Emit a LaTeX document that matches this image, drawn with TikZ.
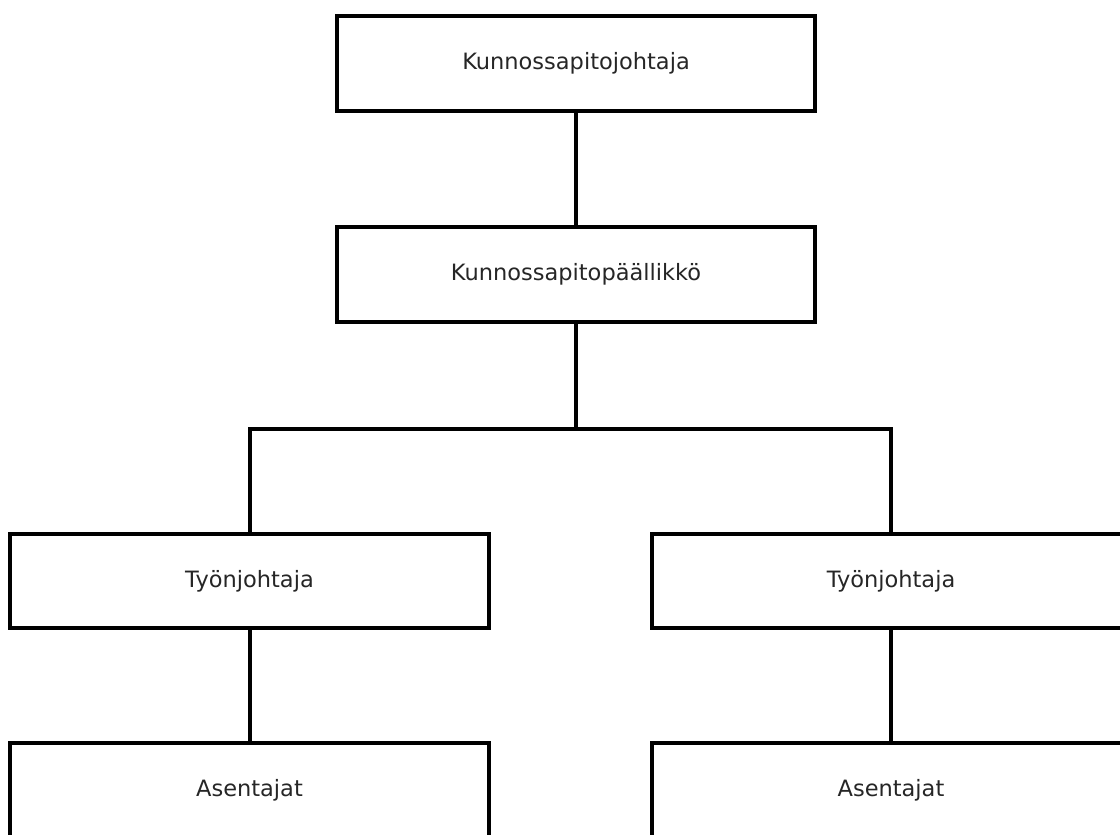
\documentclass[tikz,border=0pt]{standalone}
\usepackage{fontspec}
\setmainfont{DejaVu Sans}
\usepackage{tikz}

\begin{document}
\begin{tikzpicture}
			[x=0.025cm,y=-0.025cm,line cap=rect,
			%Styles
			role box/.style={draw,line width=0.1cm,minimum width=11.95cm,minimum height=2.35cm,inner sep=0pt,text=black!85,font=\fontsize{16}{19}\selectfont},
			link/.style={line width=0.1cm}
			]
			
			%Frame
			\useasboundingbox (0,0) rectangle (1120,835);
			\clip (0,0) rectangle (1120,835);
			
			%The graphic
			\node[role box] (chief) at (576,63.5) {Kunnossapitojohtaja};
			\node[role box] (manager) at (576,274.5) {Kunnossapitopäällikkö};
			\node[role box] (foremanL) at (249.5,581) {Työnjohtaja};
			\node[role box] (foremanR) at (891,581) {Työnjohtaja};
			\node[role box] (fittersL) at (249.5,790) {Asentajat};
			\node[role box] (fittersR) at (891,790) {Asentajat};
			\coordinate (split) at (576,428.5);
			
			\draw[link] (chief) -- (manager);
			\draw[link] (manager) -- (split);
			\draw[link] (foremanL.north) |- (split) -| (foremanR.north);
			\draw[link] (foremanL) -- (fittersL);
			\draw[link] (foremanR) -- (fittersR);
		\end{tikzpicture}
\end{document}
